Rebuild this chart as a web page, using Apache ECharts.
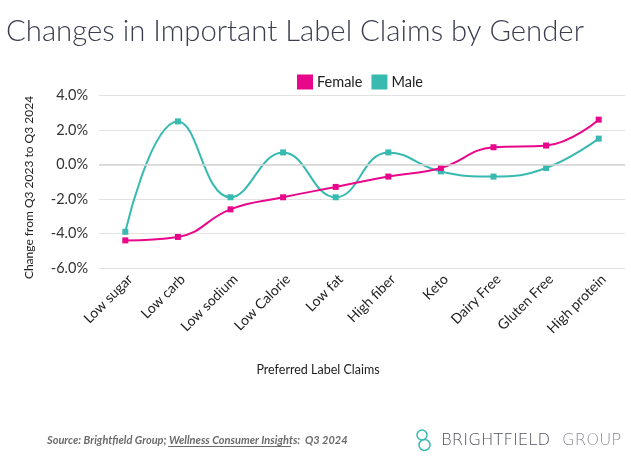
<!DOCTYPE html>
<html><head><meta charset="utf-8">
<script src="https://cdn.jsdelivr.net/npm/echarts@6/dist/echarts.min.js"></script>
<style>html,body{margin:0;padding:0;background:#fff}#c{width:631px;height:473px}</style>
</head><body><div id="c"></div>
<script>
const categories = ["Low sugar","Low carb","Low sodium","Low Calorie","Low fat","High fiber","Keto","Dairy Free","Gluten Free","High protein"];
const female = [-4.4,-4.2,-2.6,-1.9,-1.3,-0.7,-0.2,1.0,1.1,2.6];
const male = [-3.9,2.5,-1.9,0.7,-1.9,0.7,-0.4,-0.7,-0.2,1.5];
const yTicks = {min:-6, max:4, interval:2};

const chart = echarts.init(document.getElementById('c'), null, {renderer:'canvas'});
const F = 'Lato, "Noto Sans", sans-serif';
chart.setOption({
  backgroundColor:'#ffffff',
  animation:false,
  title:{text:'Changes in Important Label Claims by Gender', left:1, top:12,
    textStyle:{fontFamily:F, fontWeight:300, fontSize:29.3, color:'#3b3d4f'}},
  legend:{top:69.5, left:292, itemWidth:16, itemHeight:15, itemGap:9, icon:'rect',
    textStyle:{fontFamily:F, fontSize:14.5, color:'#222', padding:[0,0,0,-1]}, data:['Female','Male']},
  grid:{left:99, right:6, top:95.5, bottom:205},
  xAxis:{type:'category', data:categories, boundaryGap:true,
    axisLine:{show:false}, axisTick:{show:false},
    axisLabel:{rotate:45, fontFamily:F, fontSize:14, color:'#222', margin:4, interval:0, verticalAlign:'top'}},
  yAxis:{type:'value', min:yTicks.min, max:yTicks.max, interval:yTicks.interval,
    axisLabel:{formatter:v=>v.toFixed(1)+'%', fontFamily:F, fontSize:14.5, color:'#333', margin:11},
    splitLine:{lineStyle:{color:'#e2e2e2', width:1}},
    axisLine:{show:false}, axisTick:{show:false}},
  series:[
    {name:'Female', type:'line', data:female, smooth:0.45, symbol:'rect', symbolSize:6,
      itemStyle:{color:'#e8078b'}, lineStyle:{color:'#e8078b', width:2}, z:3},
    {name:'Male', type:'line', data:male, smooth:0.45, symbol:'rect', symbolSize:6,
      itemStyle:{color:'#38bab1'}, lineStyle:{color:'#38bab1', width:2}, z:2,
      markLine:{silent:true, symbol:'none', label:{show:false},
        lineStyle:{color:'#d4d4d4', type:'solid', width:1.5}, data:[{yAxis:0}]}}
  ],
  graphic:[
    {type:'text', x:29, y:187.5, rotation:Math.PI/2, style:{text:'Change from Q3 2023 to Q3 2024',
      fontFamily:F, fontSize:12, fill:'#222', align:'center', verticalAlign:'middle'}},
    {type:'text', x:318, y:369.5, style:{text:'Preferred Label Claims',
      fontFamily:F, fontSize:12.5, fill:'#222', align:'center', verticalAlign:'middle'}},
    {type:'text', x:47, y:440.5, style:{
      text:'Source: Brightfield Group; Wellness Consumer Insights:  Q3 2024',
      fontFamily:F, fontStyle:'italic', fontWeight:'bold', fontSize:11, fill:'#6b6b6b', verticalAlign:'middle'}},
    {type:'line', shape:{x1:168, y1:446.5, x2:291, y2:446.5}, style:{stroke:'#6b6b6b', lineWidth:1}},
    {type:'circle', shape:{cx:422, cy:435, r:5}, style:{fill:'none', stroke:'#38bab1', lineWidth:1.5}},
    {type:'circle', shape:{cx:424.5, cy:445, r:5.5}, style:{fill:'none', stroke:'#38bab1', lineWidth:1.5}},
    {type:'text', x:441, y:440.5, style:{text:'BRIGHTFIELD', fontFamily:'"DejaVu Sans", sans-serif', fontWeight:200,
      fontSize:16.5, fill:'#4e505c', verticalAlign:'middle'}},
    {type:'text', x:562, y:440.5, style:{text:'GROUP', fontFamily:'"DejaVu Sans", sans-serif', fontWeight:200,
      fontSize:16.5, fill:'#8c8e96', verticalAlign:'middle'}}
  ]
});
</script></body></html>
